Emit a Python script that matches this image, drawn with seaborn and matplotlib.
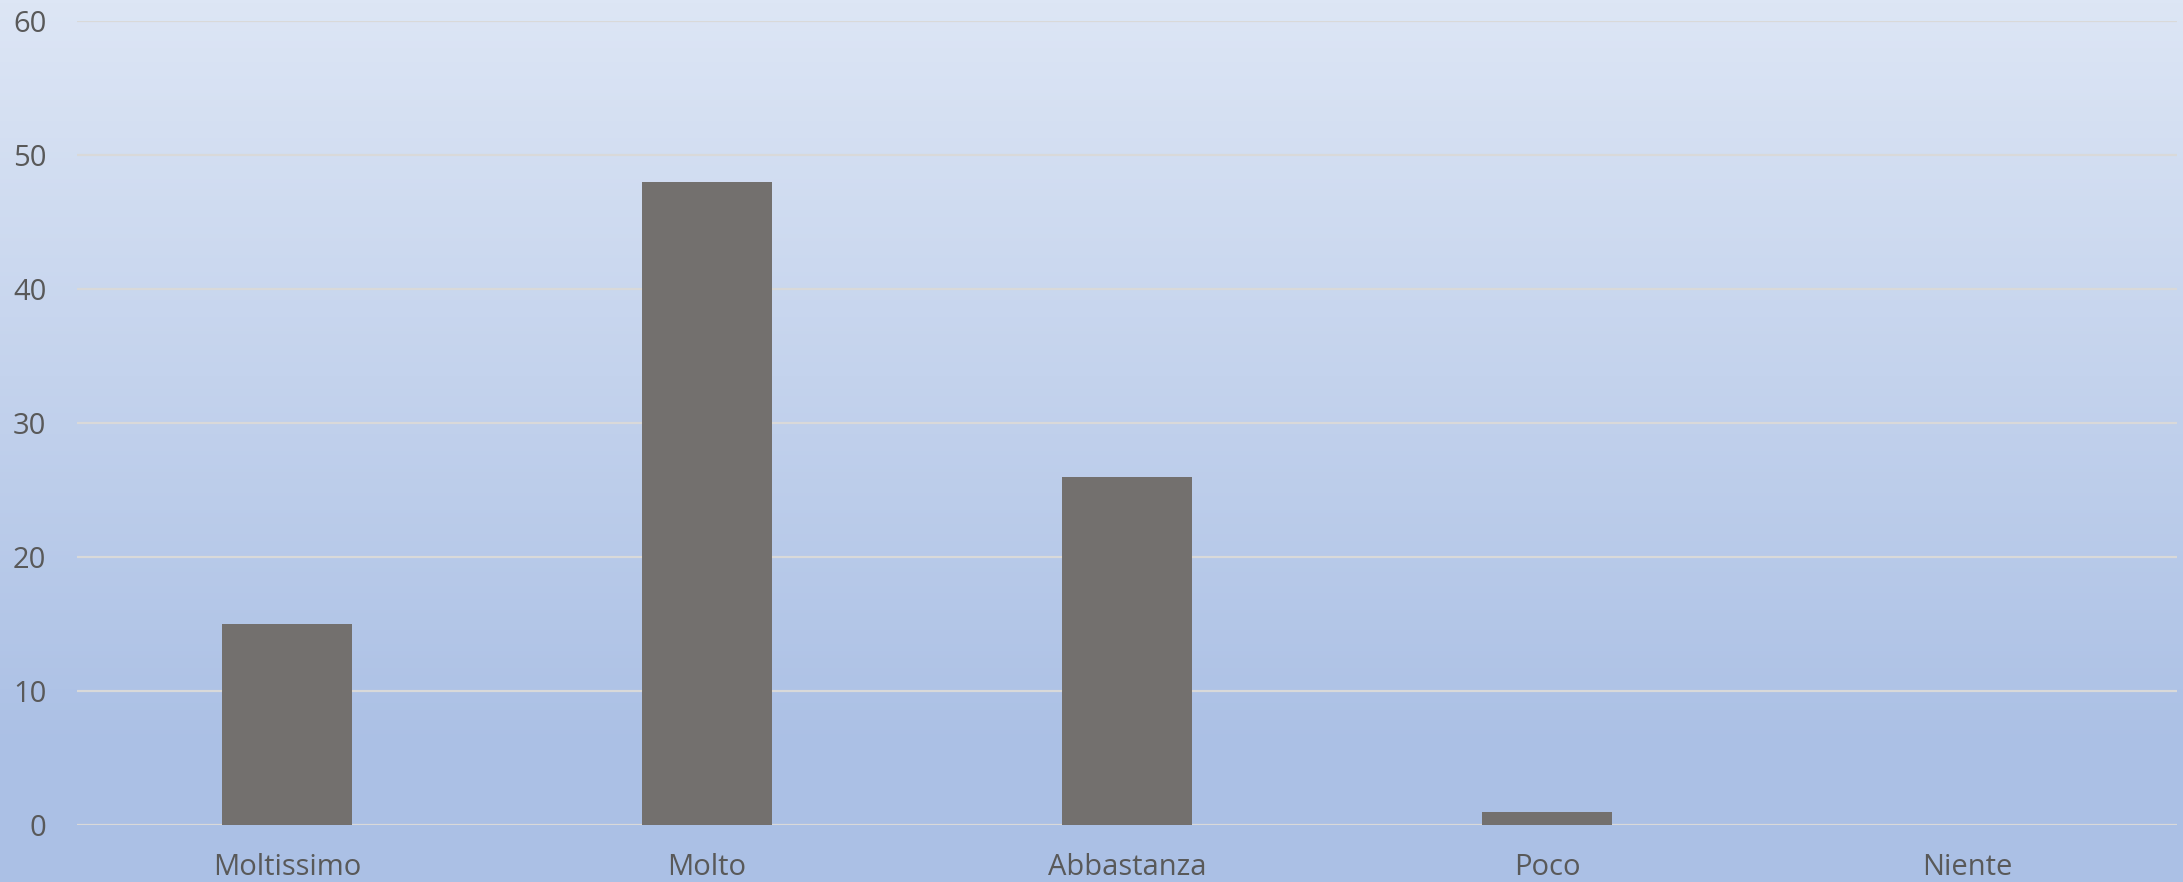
import numpy as np
import pandas as pd
import matplotlib
matplotlib.use("Agg")
import matplotlib.pyplot as plt
import seaborn as sns
from matplotlib.colors import LinearSegmentedColormap

categories = ["Moltissimo", "Molto", "Abbastanza", "Poco", "Niente"]
values = [15, 48, 26, 1, 0]
yticks = [0, 10, 20, 30, 40, 50, 60]

sns.set_theme(style="white")
plt.rcParams['font.family'] = ['Open Sans', 'DejaVu Sans']

fig = plt.figure(figsize=(21.83, 8.82), dpi=100)

# gradient background
bg = fig.add_axes([0, 0, 1, 1], zorder=0)
cmap = LinearSegmentedColormap.from_list("bg", [(0, "#dde6f5"), (0.85, "#abc0e5"), (1.0, "#abc0e5")])
grad = np.linspace(0, 1, 256).reshape(-1, 1)
bg.imshow(grad, aspect="auto", cmap=cmap, extent=[0, 1, 0, 1], origin="upper")
bg.axis("off")

ax = fig.add_axes([77/2183, 57/882, 2100/2183, 804/882], zorder=1)
ax.patch.set_alpha(0)
df = pd.DataFrame({"cat": categories, "val": values})
sns.barplot(data=df, x="cat", y="val", ax=ax, color="#73706e", saturation=1,
            width=0.31, zorder=3, linewidth=0, edgecolor="none")

ax.set_ylim(0, 60)
ax.set_xlim(-0.5, 4.5)
ax.set_yticks(yticks)
ax.set_yticklabels([str(t) for t in yticks])
ax.yaxis.grid(True, color="#d9d9d9", linewidth=1.6, zorder=0)
ax.set_axisbelow(True)
for s in ax.spines.values():
    s.set_visible(False)
ax.set_xlabel("")
ax.set_ylabel("")
ax.tick_params(axis="y", length=0, pad=22, labelsize=21, labelcolor="#595959")
ax.tick_params(axis="x", length=0, pad=20, labelsize=21, labelcolor="#595959")

fig.savefig("out.png", dpi=100)
